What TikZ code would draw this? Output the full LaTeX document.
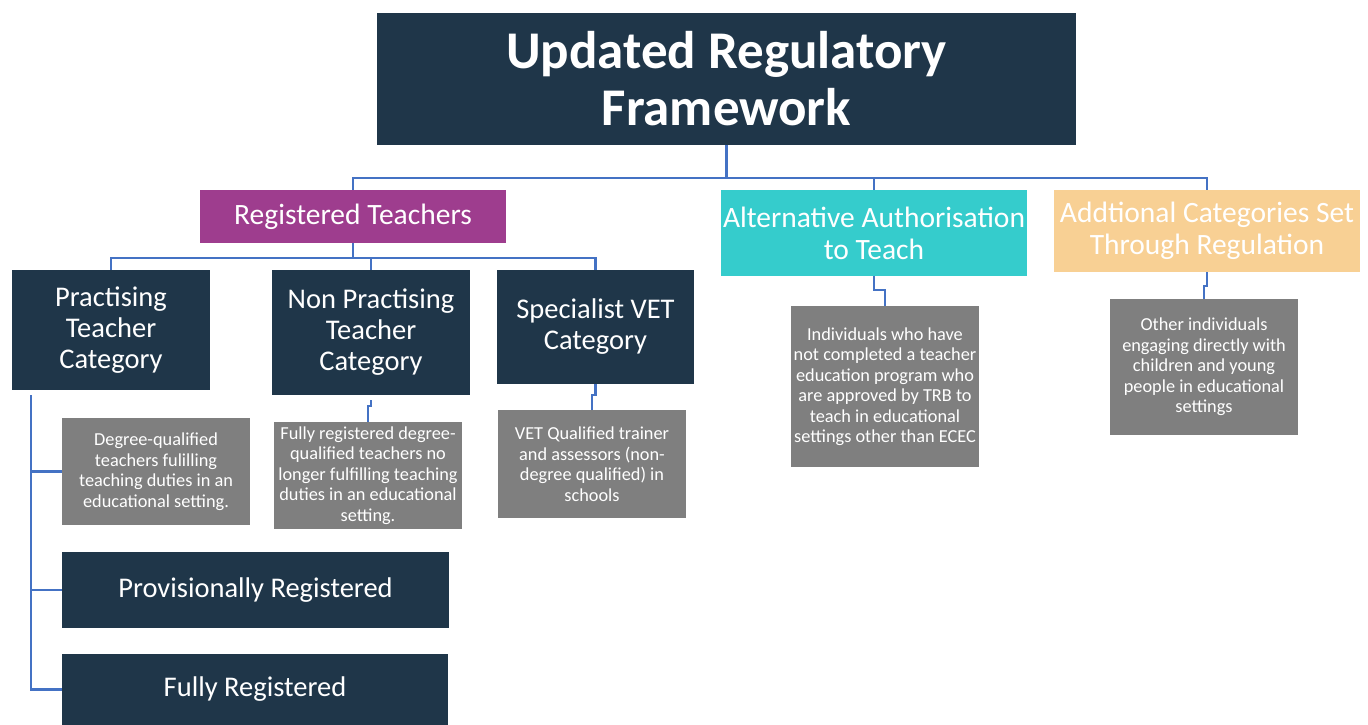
\documentclass[tikz,border=0pt]{standalone}
\usepackage{fontspec}
\setmainfont{Carlito}
\definecolor{navy}{HTML}{1F3649}
\definecolor{plum}{HTML}{9E3D8E}
\definecolor{aqua}{HTML}{35CCCC}
\definecolor{peach}{HTML}{F8D094}
\definecolor{slate}{HTML}{7F7F7F}
\definecolor{wire}{HTML}{4472C4}
\begin{document}
\begin{tikzpicture}[x=1pt,y=-1pt,
  box/.style={rectangle,inner sep=0pt,text=white,align=center},
  titlebox/.style={box,fill=navy,font=\bfseries\fontsize{53}{57}\selectfont},
  headbox/.style={box,font=\fontsize{29.5}{32}\selectfont},
  catbox/.style={box,fill=navy,font=\fontsize{28.5}{31}\selectfont},
  notebox/.style={box,fill=slate,font=\fontsize{18.3}{20.5}\selectfont},
  conn/.style={draw=wire,line width=2.2pt}]
\useasboundingbox (0,0) rectangle (1368,725);

% top level
\node[titlebox,minimum width=699,minimum height=132] (title) at (726.5,79)
  {Updated Regulatory\\Framework};

% second level
\node[headbox,fill=plum,minimum width=306,minimum height=53] (rt) at (353,216.5)
  {Registered Teachers};
\node[headbox,fill=aqua,minimum width=306,minimum height=86] (alt) at (874,233)
  {Alternative Authorisation\\to Teach};
\node[headbox,fill=peach,minimum width=306,minimum height=82] (add) at (1207,231)
  {Addtional Categories Set\\Through Regulation};

% registered teacher categories
\node[catbox,minimum width=198,minimum height=120] (prac) at (111,330)
  {Practising\\Teacher\\Category};
\node[catbox,minimum width=198,minimum height=125] (nonp) at (371,332.5)
  {Non Practising\\Teacher\\Category};
\node[catbox,minimum width=197,minimum height=114] (vet) at (595.5,327)
  {Specialist VET\\Category};

% descriptions
\node[notebox,minimum width=188,minimum height=107] (deg) at (156,471.5)
  {Degree-qualified\\teachers fulilling\\teaching duties in an\\educational setting.};
\node[notebox,minimum width=188,minimum height=107] (npd) at (368,475.5)
  {Fully registered degree-\\qualified teachers no\\longer fulfilling teaching\\duties in an educational\\setting.};
\node[notebox,minimum width=188,minimum height=108] (vetd) at (592,464)
  {VET Qualified trainer\\and assessors (non-\\degree qualified) in\\schools};
\node[notebox,minimum width=188,minimum height=161] (altd) at (885,386.5)
  {Individuals who have\\not completed a teacher\\education program who\\are approved by TRB to\\teach in educational\\settings other than ECEC};
\node[notebox,minimum width=188,minimum height=136] (addd) at (1204,367)
  {Other individuals\\engaging directly with\\children and young\\people in educational\\settings};

% registration stages
\node[catbox,minimum width=387,minimum height=76] (prov) at (255.5,590)
  {Provisionally Registered};
\node[catbox,minimum width=386,minimum height=71] (full) at (255,689.5)
  {Fully Registered};

% connectors
\coordinate (busA) at (0,178);
\coordinate (busB) at (0,258);
\coordinate (spine) at (31,0);
\draw[conn] (title.south) -- (title.south |- busA);
\draw[conn] (rt.north) -- (rt.north |- busA) -- (add.north |- busA) -- (add.north);
\draw[conn] (alt.north) -- (alt.north |- busA);

\draw[conn] (rt.south) -- (rt.south |- busB);
\draw[conn] (prac.north) -- (prac.north |- busB) -- (vet.north |- busB) -- (vet.north);
\draw[conn] (nonp.north) -- (nonp.north |- busB);

\draw[conn,shorten <=5pt] (prac.south -| spine) -- (spine |- full.west) -- (full.west);
\draw[conn] (spine |- deg.west) -- (deg.west);
\draw[conn] (spine |- prov.west) -- (prov.west);

\draw[conn,shorten <=5pt] (nonp.south) -- ++(0,11) -| (npd.north);
\draw[conn] (vet.south) -- ++(0,11) -| (vetd.north);
\draw[conn] (alt.south) -- ++(0,14) -| (altd.north);
\draw[conn] (add.south) -- ++(0,14) -| (addd.north);
\end{tikzpicture}
\end{document}
